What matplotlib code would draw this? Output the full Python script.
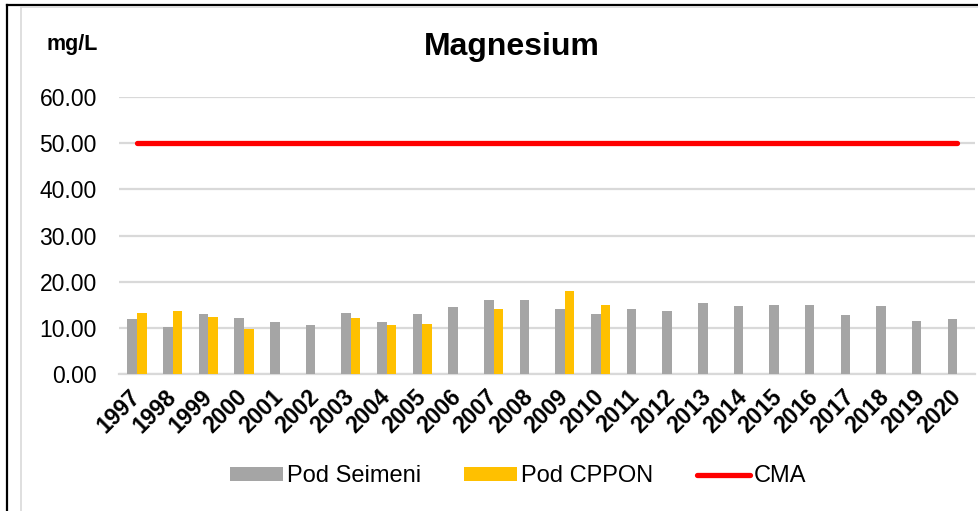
import matplotlib.pyplot as plt
import numpy as np
from matplotlib.lines import Line2D

plt.rcParams['font.family'] = ['Liberation Sans', 'DejaVu Sans']

years = [str(y) for y in range(1997, 2021)]
pod_seimeni = [12.0, 10.2, 13.0, 12.1, 11.2, 10.65, 13.3, 11.2, 13.1, 14.6, 16.0, 16.0,
               14.0, 13.0, 14.0, 13.6, 15.3, 14.7, 14.9, 14.9, 12.8, 14.7, 11.45, 12.0]
pod_cppon = [13.3, 13.6, 12.3, 9.7, np.nan, np.nan, 12.1, 10.6, 10.8, np.nan, 14.0, np.nan,
             18.0, 14.9, np.nan, np.nan, np.nan, np.nan, np.nan, np.nan, np.nan, np.nan,
             np.nan, np.nan]
cma = [50.0] * len(years)

fig = plt.figure(figsize=(9.79, 5.11), dpi=100)
ax = fig.add_axes([0.1216, 0.268, 0.8743, 0.542])

x = np.arange(len(years))
w = 0.27
b1 = ax.bar(x - w / 2, pod_seimeni, w, color='#a5a5a5', label='Pod Seimeni', zorder=3)
b2 = ax.bar(x + w / 2, pod_cppon, w, color='#ffc000', label='Pod CPPON', zorder=3)
l1, = ax.plot(x, cma, color='#ff0000', lw=3.8, solid_capstyle='round', label='CMA', zorder=4)

ax.set_xlim(-0.5, len(years) - 0.5)
ax.set_ylim(0, 60)
ax.set_yticks(np.arange(0, 61, 10))
ax.set_yticklabels([f'{v:.2f}' for v in np.arange(0, 61, 10)], fontsize=16.5)
ax.set_xticks(x)
ax.set_xticklabels(years, rotation=45, ha='right', va='center', rotation_mode='anchor',
                   fontsize=16.5, fontweight='bold')
ax.tick_params(axis='both', length=0)
ax.tick_params(axis='y', pad=16)
ax.tick_params(axis='x', pad=14)
ax.grid(axis='y', color='#d9d9d9', lw=1.6, zorder=0)
for s in ['top', 'right', 'left']:
    ax.spines[s].set_visible(False)
ax.spines['bottom'].set_color('#d9d9d9')
ax.spines['bottom'].set_linewidth(1.6)

fig.text(0.523, 0.908, 'Magnesium', ha='center', va='center', fontsize=23, fontweight='bold')
fig.text(0.074, 0.912, 'mg/L', ha='center', va='center', fontsize=15.5, fontweight='bold')

ax.legend([b1, b2, l1], ['Pod Seimeni', 'Pod CPPON', 'CMA'],
          loc='center', bbox_to_anchor=(0.529, 0.068), bbox_transform=fig.transFigure,
          ncol=3, frameon=False, fontsize=17, handlelength=2.25, handletextpad=0.15,
          columnspacing=1.85, handleheight=0.55)

# outer frame lines
fig.add_artist(Line2D([0.0072, 0.0072], [0, 0.99], color='black', lw=1.6))
fig.add_artist(Line2D([0.0072, 1], [0.99, 0.99], color='black', lw=1.6))
fig.add_artist(Line2D([0.0215, 0.0215], [0, 0.986], color='#d9d9d9', lw=1.2))
fig.add_artist(Line2D([0.0215, 1], [0.986, 0.986], color='#d9d9d9', lw=1.2))

fig.savefig('out.png', dpi=100)
